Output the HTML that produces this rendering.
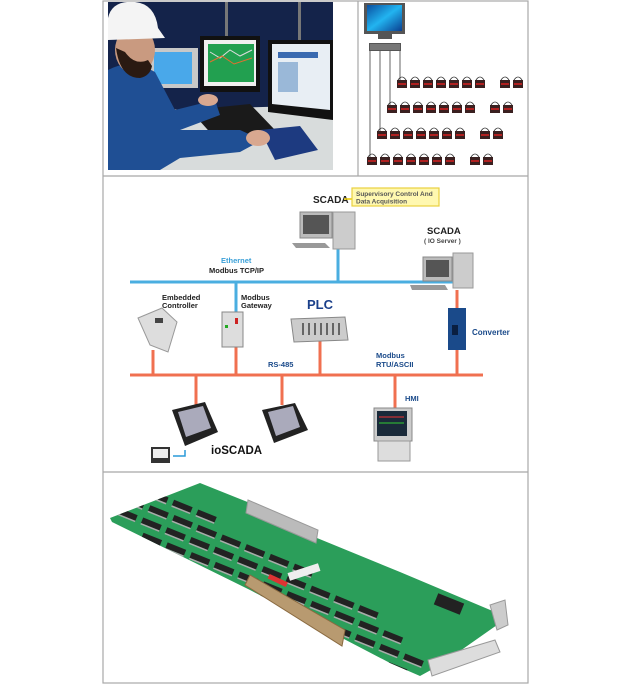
<!DOCTYPE html>
<html><head><meta charset="utf-8"><style>
html,body{margin:0;padding:0;background:#fff;width:640px;height:693px;overflow:hidden}
svg{display:block}
text{font-family:"Liberation Sans",Arial,sans-serif;font-weight:bold}
</style></head><body>
<svg width="640" height="693" viewBox="0 0 640 693" xmlns="http://www.w3.org/2000/svg">
<defs>
<linearGradient id="scr" x1="0" y1="0" x2="1" y2="1"><stop offset="0" stop-color="#0a4fa0"/><stop offset="0.5" stop-color="#22b4f0"/><stop offset="1" stop-color="#0a3f90"/></linearGradient>
<g id="dev"><rect x="0" y="0" width="10" height="8" fill="#3a2020"/><rect x="1" y="3" width="8" height="2" fill="#b02020"/><path d="M1 0 q4 -6 8 0" fill="none" stroke="#333" stroke-width="0.8"/></g>
<g id="chip"><rect x="0" y="0" width="20" height="6" fill="#222"/><rect x="0" y="6" width="20" height="1.5" fill="#aaa"/></g>
<clipPath id="board"><path d="M110 518 L200 483 L250 503 L317 538 L400 572 L495 612 L497 625 L440 665 L420 676 L390 663 L250 590 L112 522 Z"/></clipPath>
</defs>
<g stroke="#a8a8a8" stroke-width="1.2" fill="none">
<rect x="103" y="1" width="425" height="682"/>
<line x1="358" y1="1" x2="358" y2="176"/>
<line x1="103" y1="176" x2="528" y2="176"/>
<line x1="103" y1="472" x2="528" y2="472"/>
</g>
<!-- photo -->
<rect x="108" y="2" width="225" height="168" fill="#14234a"/>
<rect x="225" y="2" width="3" height="40" fill="#777"/><rect x="298" y="2" width="3" height="40" fill="#777"/>
<path d="M160 110 L333 105 L333 170 L160 170 Z" fill="#d8dcdc"/>
<rect x="150" y="48" width="48" height="40" fill="#c8c8c8"/><rect x="154" y="52" width="38" height="32" fill="#49a8ea"/>
<rect x="200" y="36" width="60" height="56" fill="#111"/><rect x="204" y="40" width="52" height="46" fill="#f0f0f0"/><rect x="208" y="44" width="46" height="38" fill="#22a050"/>
<polyline points="210,52 220,58 230,50 240,56 252,50" fill="none" stroke="#ddd" stroke-width="1"/>
<polyline points="210,62 222,56 234,64 252,58" fill="none" stroke="#e07030" stroke-width="1"/>
<path d="M268 40 L333 40 L333 120 L268 112 Z" fill="#111"/><path d="M272 44 L330 44 L330 110 L272 104 Z" fill="#e8eef4"/>
<rect x="278" y="52" width="40" height="6" fill="#3a6ab0"/><rect x="278" y="62" width="20" height="30" fill="#9ab8d8"/>
<path d="M190 110 L250 104 L275 130 L215 138 Z" fill="#1a1a1a"/>
<path d="M260 130 L300 126 L318 150 L275 160 Z" fill="#1d3a80"/>
<path d="M108 70 Q130 58 155 72 L175 110 L215 100 L220 115 L180 130 L240 130 L262 140 L240 152 L180 158 L160 170 L108 170 Z" fill="#1f4f94"/>
<ellipse cx="135" cy="50" rx="20" ry="24" fill="#c99a80"/>
<path d="M116 48 Q120 78 140 78 Q150 76 152 66 L148 60 Q135 66 125 52 Z" fill="#2a1a12"/>
<path d="M108 18 Q112 0 135 2 Q155 4 158 28 L165 38 L108 40 Z" fill="#f4f4f4"/>
<ellipse cx="258" cy="138" rx="12" ry="8" fill="#d8a890"/><ellipse cx="208" cy="100" rx="10" ry="6" fill="#d8a890"/>
<!-- top right network -->
<rect x="364" y="3" width="41" height="31" fill="#555"/><rect x="367" y="5" width="35" height="26" fill="url(#scr)"/>
<rect x="378" y="34" width="14" height="5" fill="#555"/>
<rect x="369" y="43" width="32" height="8" fill="#555"/><rect x="370" y="44" width="30" height="6" fill="#777"/>
<g stroke="#666" stroke-width="1" fill="none">
<polyline points="400,51 400,84 397,84"/><polyline points="390,51 390,109 387,109"/><polyline points="380,51 380,134 377,134"/><polyline points="370,51 370,160 367,160"/>
</g>
<g>
<use href="#dev" x="397" y="80"/><use href="#dev" x="410" y="80"/><use href="#dev" x="423" y="80"/><use href="#dev" x="436" y="80"/><use href="#dev" x="449" y="80"/><use href="#dev" x="462" y="80"/><use href="#dev" x="475" y="80"/><use href="#dev" x="500" y="80"/><use href="#dev" x="513" y="80"/>
<use href="#dev" x="387" y="105"/><use href="#dev" x="400" y="105"/><use href="#dev" x="413" y="105"/><use href="#dev" x="426" y="105"/><use href="#dev" x="439" y="105"/><use href="#dev" x="452" y="105"/><use href="#dev" x="465" y="105"/><use href="#dev" x="490" y="105"/><use href="#dev" x="503" y="105"/>
<use href="#dev" x="377" y="131"/><use href="#dev" x="390" y="131"/><use href="#dev" x="403" y="131"/><use href="#dev" x="416" y="131"/><use href="#dev" x="429" y="131"/><use href="#dev" x="442" y="131"/><use href="#dev" x="455" y="131"/><use href="#dev" x="480" y="131"/><use href="#dev" x="493" y="131"/>
<use href="#dev" x="367" y="157"/><use href="#dev" x="380" y="157"/><use href="#dev" x="393" y="157"/><use href="#dev" x="406" y="157"/><use href="#dev" x="419" y="157"/><use href="#dev" x="432" y="157"/><use href="#dev" x="445" y="157"/><use href="#dev" x="470" y="157"/><use href="#dev" x="483" y="157"/>
</g>
<!-- middle diagram lines -->
<g stroke="#4aaee0" stroke-width="3">
<line x1="130" y1="282" x2="455" y2="282"/><line x1="338" y1="249" x2="338" y2="282"/><line x1="236" y1="282" x2="236" y2="312"/>
</g>
<g stroke="#f07050" stroke-width="3">
<line x1="130" y1="375" x2="483" y2="375"/>
<line x1="457" y1="290" x2="457" y2="308"/><line x1="457" y1="350" x2="457" y2="375"/>
<line x1="153" y1="350" x2="153" y2="375"/><line x1="236" y1="347" x2="236" y2="375"/><line x1="320" y1="340" x2="320" y2="375"/>
<line x1="196" y1="375" x2="196" y2="405"/><line x1="282" y1="375" x2="282" y2="405"/><line x1="395" y1="375" x2="395" y2="410"/>
</g>
<text x="313" y="203" font-size="10" fill="#222">SCADA</text>
<line x1="344" y1="199" x2="352" y2="199" stroke="#e8c800" stroke-width="1.5"/>
<rect x="352" y="188" width="87" height="18" fill="#fff8b0" stroke="#e8d040" stroke-width="1.2"/>
<text x="356" y="196" font-size="6.5" fill="#555">Supervisory Control And</text>
<text x="356" y="203.5" font-size="6.5" fill="#555">Data Acquisition</text>
<rect x="333" y="212" width="22" height="37" fill="#ccc" stroke="#999"/>
<rect x="300" y="212" width="32" height="26" fill="#bbb" stroke="#888"/><rect x="303" y="215" width="26" height="19" fill="#555"/>
<path d="M292 243 L325 243 L330 248 L296 248 Z" fill="#999"/>
<text x="427" y="234" font-size="9.5" fill="#222">SCADA</text>
<text x="424" y="243" font-size="6.5" fill="#444" font-weight="normal">( IO Server )</text>
<rect x="453" y="253" width="20" height="35" fill="#ccc" stroke="#999"/>
<rect x="423" y="257" width="29" height="24" fill="#bbb" stroke="#888"/><rect x="426" y="260" width="23" height="17" fill="#555"/>
<path d="M410 285 L445 285 L448 290 L412 290 Z" fill="#999"/>
<rect x="448" y="308" width="18" height="42" fill="#1a4a8a"/><rect x="452" y="325" width="6" height="10" fill="#0a1f40"/>
<text x="472" y="335" font-size="8" fill="#1a4a8a">Converter</text>
<text x="221" y="263" font-size="7.5" fill="#3aa0d8">Ethernet</text>
<text x="209" y="273" font-size="7.5" fill="#222">Modbus TCP/IP</text>
<text x="162" y="300" font-size="7.5" fill="#222">Embedded</text>
<text x="162" y="308" font-size="7.5" fill="#222">Controller</text>
<text x="241" y="300" font-size="7.5" fill="#222">Modbus</text>
<text x="241" y="308" font-size="7.5" fill="#222">Gateway</text>
<text x="307" y="309" font-size="13" fill="#1a3f8a">PLC</text>
<text x="268" y="367" font-size="7.5" fill="#1a4a8a">RS-485</text>
<text x="376" y="358" font-size="7.5" fill="#1a4a8a">Modbus</text>
<text x="376" y="367" font-size="7.5" fill="#1a4a8a">RTU/ASCII</text>
<text x="405" y="401" font-size="7.5" fill="#1a4a8a">HMI</text>
<path d="M138 318 L162 308 L177 322 L168 352 L150 345 Z" fill="#ddd" stroke="#999"/>
<rect x="155" y="318" width="8" height="5" fill="#444"/>
<rect x="222" y="312" width="21" height="35" fill="#ddd" stroke="#888"/><rect x="235" y="318" width="3" height="6" fill="#c22"/><rect x="225" y="325" width="3" height="3" fill="#2a2"/>
<path d="M291 319 L345 317 L348 340 L294 342 Z" fill="#ccc" stroke="#888"/>
<g fill="#666"><rect x="302" y="323" width="2" height="12"/><rect x="308" y="323" width="2" height="12"/><rect x="314" y="323" width="2" height="12"/><rect x="320" y="323" width="2" height="12"/><rect x="326" y="323" width="2" height="12"/><rect x="332" y="323" width="2" height="12"/><rect x="338" y="323" width="2" height="12"/></g>
<path d="M172 410 L205 402 L218 432 L185 446 Z" fill="#222"/><path d="M178 412 L203 406 L211 428 L186 437 Z" fill="#aab"/>
<path d="M262 410 L295 403 L308 430 L274 443 Z" fill="#222"/><path d="M268 412 L293 406 L300 427 L276 436 Z" fill="#aab"/>
<rect x="374" y="408" width="38" height="33" fill="#ccc" stroke="#888"/><rect x="377" y="411" width="30" height="25" fill="#1a2a3a"/>
<line x1="379" y1="417" x2="404" y2="417" stroke="#e33" stroke-width="1"/><line x1="379" y1="423" x2="404" y2="423" stroke="#3c3" stroke-width="1"/>
<rect x="378" y="441" width="32" height="20" fill="#ddd" stroke="#999"/>
<rect x="151" y="447" width="19" height="16" fill="#333"/><rect x="153" y="449" width="15" height="9" fill="#eee"/>
<path d="M173 456 L185 456 L185 450" fill="none" stroke="#2a9ad8" stroke-width="1.5"/>
<text x="211" y="454" font-size="11.5" fill="#111">ioSCADA</text>
<!-- PCB -->
<path d="M110 518 L200 483 L250 503 L317 538 L400 572 L495 612 L497 625 L440 665 L420 676 L390 663 L250 590 L112 522 Z" fill="#2b9e5a"/>
<g clip-path="url(#board)">
<g transform="translate(150 490) rotate(22)">
<use href="#chip" x="0" y="0"/><use href="#chip" x="26" y="0"/><use href="#chip" x="52" y="0"/>
<use href="#chip" x="-20" y="14"/><use href="#chip" x="6" y="14"/><use href="#chip" x="32" y="14"/><use href="#chip" x="58" y="14"/><use href="#chip" x="84" y="14"/><use href="#chip" x="110" y="14"/><use href="#chip" x="136" y="14"/><use href="#chip" x="162" y="14"/>
<use href="#chip" x="-22" y="28"/><use href="#chip" x="4" y="28"/><use href="#chip" x="30" y="28"/><use href="#chip" x="56" y="28"/><use href="#chip" x="82" y="28"/><use href="#chip" x="108" y="28"/><use href="#chip" x="134" y="28"/><use href="#chip" x="160" y="28"/><use href="#chip" x="186" y="28"/><use href="#chip" x="212" y="28"/><use href="#chip" x="238" y="28"/>
<use href="#chip" x="10" y="42"/><use href="#chip" x="36" y="42"/><use href="#chip" x="62" y="42"/><use href="#chip" x="88" y="42"/><use href="#chip" x="114" y="42"/><use href="#chip" x="140" y="42"/><use href="#chip" x="166" y="42"/><use href="#chip" x="192" y="42"/><use href="#chip" x="218" y="42"/><use href="#chip" x="244" y="42"/><use href="#chip" x="270" y="42"/>
<use href="#chip" x="90" y="56"/><use href="#chip" x="116" y="56"/><use href="#chip" x="142" y="56"/><use href="#chip" x="168" y="56"/><use href="#chip" x="194" y="56"/><use href="#chip" x="220" y="56"/><use href="#chip" x="246" y="56"/><use href="#chip" x="272" y="56"/><use href="#chip" x="298" y="56"/>
<use href="#chip" x="130" y="70"/><use href="#chip" x="156" y="70"/><use href="#chip" x="182" y="70"/><use href="#chip" x="208" y="70"/><use href="#chip" x="234" y="70"/><use href="#chip" x="260" y="70"/><use href="#chip" x="286" y="70"/>
</g>
</g>
<path d="M248 500 L318 530 L316 543 L246 513 Z" fill="#bbb" stroke="#999"/>
<path d="M245 585 L250 575 L345 630 L342 646 Z" fill="#b89a70" stroke="#8a6a40"/>
<rect x="268" y="578" width="20" height="5" fill="#d33" transform="rotate(25 278 580)"/>
<rect x="288" y="568" width="32" height="8" fill="#eee" transform="rotate(-18 304 572)"/>
<path d="M428 660 L495 640 L500 652 L432 676 Z" fill="#ddd" stroke="#999"/>
<path d="M490 605 L505 600 L508 625 L497 630 Z" fill="#ccc" stroke="#999"/>
<rect x="435" y="598" width="28" height="12" fill="#222" transform="rotate(22 449 604)"/>
</svg>
</body></html>
